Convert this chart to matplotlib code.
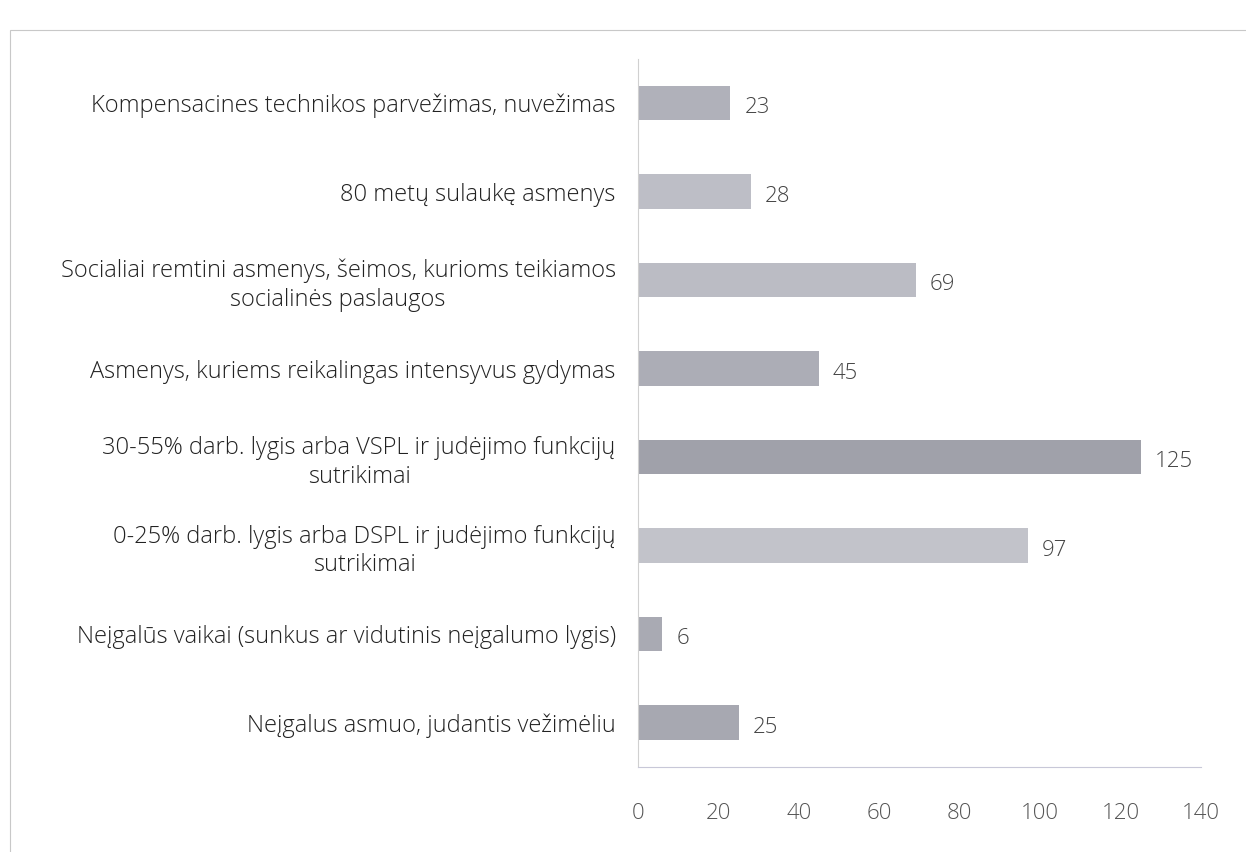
import matplotlib.pyplot as plt
from matplotlib.patches import Rectangle

plt.rcParams["font.family"] = ["Open Sans", "DejaVu Sans"]

# data, top to bottom as in the chart
categories = [
    "Kompensacines technikos parvežimas, nuvežimas",
    "80 metų sulaukę asmenys",
    "Socialiai remtini asmenys, šeimos, kurioms teikiamos\nsocialinės paslaugos",
    "Asmenys, kuriems reikalingas intensyvus gydymas",
    "30-55% darb. lygis arba VSPL ir judėjimo funkcijų\nsutrikimai",
    "0-25% darb. lygis arba DSPL ir judėjimo funkcijų\nsutrikimai",
    "Neįgalūs vaikai (sunkus ar vidutinis neįgalumo lygis)",
    "Neįgalus asmuo, judantis vežimėliu",
]
values = [23, 28, 69, 45, 125, 97, 6, 25]
bar_colors = ["#b0b1ba", "#bdbec6", "#bbbcc4", "#acadb6",
              "#a0a1aa", "#c2c3ca", "#a9aab3", "#a7a8b1"]
xticks = [0, 20, 40, 60, 80, 100, 120, 140]

fig = plt.figure(figsize=(12.46, 8.52), dpi=100)
ax = fig.add_axes([0.512, 0.0998, 0.452, 0.831])

pos = list(range(len(values)))
ax.barh(pos, values, height=0.39, color=bar_colors)
ax.set_ylim(len(values) - 0.5, -0.5)
ax.set_xlim(0, 140)

ax.set_yticks(pos)
ax.set_yticklabels(categories, fontsize=17, color="#222222",
                   fontweight="light", multialignment="center",
                   linespacing=1.25)
ax.tick_params(axis="y", length=0, pad=16)
ax.set_xticks(xticks)
ax.set_xticklabels([str(t) for t in xticks], fontweight="light")
ax.tick_params(axis="x", length=0, pad=26, labelsize=16, labelcolor="#555555")

for p, v in zip(pos, values):
    ax.text(v + 3.5, p + 0.05, str(v), va="center", ha="left", fontsize=16,
            color="#444444", fontweight="light")

for s in ["top", "right"]:
    ax.spines[s].set_visible(False)
ax.spines["left"].set_color("#d0d0d0")
ax.spines["bottom"].set_color("#c8c8d8")
ax.spines["left"].set_linewidth(0.8)
ax.spines["bottom"].set_linewidth(0.8)

# scanned page frame
fig.patches.append(Rectangle((0.008, -0.1), 1.1, 1.065, transform=fig.transFigure,
                             fill=False, edgecolor="#c8c8c8", linewidth=0.8))

fig.savefig("out.png", dpi=100)
